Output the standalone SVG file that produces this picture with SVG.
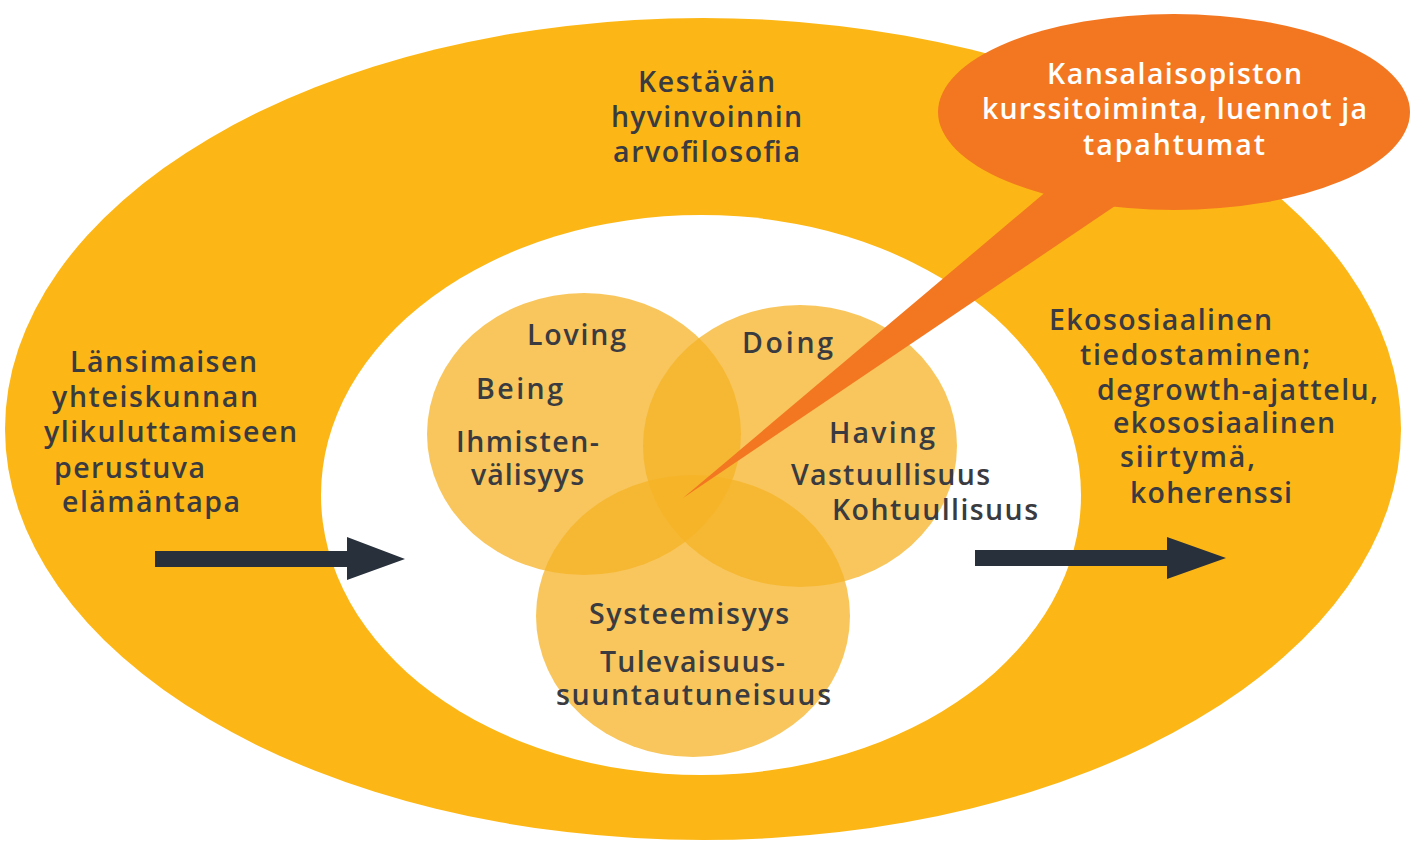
<svg xmlns="http://www.w3.org/2000/svg" width="1419" height="844" viewBox="0 0 1419 844">
<style>
.t{font-family:"Open Sans","Noto Sans","Liberation Sans",sans-serif;font-weight:600;font-size:28.5px;fill:#3A3B40}
.w{fill:#FFFFFF}
.c{fill:#F5B325;opacity:0.75}
.arr{fill:#28303B}
</style>
<rect width="1419" height="844" fill="#FFFFFF"/>
<g id="outer">
<ellipse cx="703" cy="429" rx="698" ry="411" fill="#FCB716"/>
<text class="t" x="638" y="92" textLength="137" lengthAdjust="spacing">Kestävän</text>
<text class="t" x="611" y="127" textLength="191" lengthAdjust="spacing">hyvinvoinnin</text>
<text class="t" x="613" y="162" textLength="187" lengthAdjust="spacing">arvofilosofia</text>
</g>
<g id="inner">
<ellipse cx="701" cy="495" rx="380" ry="280" fill="#FFFFFF"/>
</g>
<g id="left-text">
<text class="t" x="70" y="372" textLength="187" lengthAdjust="spacing">Länsimaisen</text>
<text class="t" x="52" y="407" textLength="206" lengthAdjust="spacing">yhteiskunnan</text>
<text class="t" x="44" y="442" textLength="253" lengthAdjust="spacing">ylikuluttamiseen</text>
<text class="t" x="54" y="478" textLength="151" lengthAdjust="spacing">perustuva</text>
<text class="t" x="62" y="512" textLength="178" lengthAdjust="spacing">elämäntapa</text>
</g>
<g id="right-text">
<text class="t" x="1049" y="330" textLength="223" lengthAdjust="spacing">Ekososiaalinen</text>
<text class="t" x="1080" y="365" textLength="230" lengthAdjust="spacing">tiedostaminen;</text>
<text class="t" x="1097" y="400" textLength="281" lengthAdjust="spacing">degrowth-ajattelu,</text>
<text class="t" x="1113" y="433" textLength="222" lengthAdjust="spacing">ekososiaalinen</text>
<text class="t" x="1120" y="467" textLength="135" lengthAdjust="spacing">siirtymä,</text>
<text class="t" x="1130" y="503" textLength="162" lengthAdjust="spacing">koherenssi</text>
</g>
<g id="loving">
<ellipse class="c" cx="584" cy="434" rx="157" ry="141"/>
</g>
<g id="doing">
<ellipse class="c" cx="800" cy="446" rx="157" ry="141"/>
</g>
<g id="systeemisyys">
<ellipse class="c" cx="693" cy="616" rx="157" ry="141"/>
</g>
<g id="bubble">
<path d="M1048,190 L683,498 L1118,204 Z" fill="#F37721"/>
<ellipse cx="1174" cy="112" rx="236" ry="98" fill="#F37721"/>
<text class="t w" x="1047" y="84" textLength="255" lengthAdjust="spacing">Kansalaisopiston</text>
<text class="t w" x="982" y="119" textLength="385" lengthAdjust="spacing">kurssitoiminta, luennot ja</text>
<text class="t w" x="1083" y="155" textLength="182" lengthAdjust="spacing">tapahtumat</text>
</g>
<g id="circle-labels">
<text class="t" x="527" y="345" textLength="99" lengthAdjust="spacing">Loving</text>
<text class="t" x="476" y="399" textLength="87" lengthAdjust="spacing">Being</text>
<text class="t" x="456" y="452" textLength="143" lengthAdjust="spacing">Ihmisten-</text>
<text class="t" x="471" y="485" textLength="113" lengthAdjust="spacing">välisyys</text>
<text class="t" x="742" y="353" textLength="91" lengthAdjust="spacing">Doing</text>
<text class="t" x="829" y="443" textLength="106" lengthAdjust="spacing">Having</text>
<text class="t" x="791" y="485" textLength="199" lengthAdjust="spacing">Vastuullisuus</text>
<text class="t" x="832" y="520" textLength="206" lengthAdjust="spacing">Kohtuullisuus</text>
<text class="t" x="589" y="624" textLength="200" lengthAdjust="spacing">Systeemisyys</text>
<text class="t" x="600" y="672" textLength="185" lengthAdjust="spacing">Tulevaisuus-</text>
<text class="t" x="556" y="705" textLength="275" lengthAdjust="spacing">suuntautuneisuus</text>
</g>
<g id="connectors">
<path class="arr" d="M155,551 L347,551 L347,537 L405,559 L347,580 L347,567 L155,567 Z"/>
<path class="arr" d="M975,550 L1167,550 L1167,537 L1226,558 L1167,579 L1167,566 L975,566 Z"/>
</g>
</svg>
